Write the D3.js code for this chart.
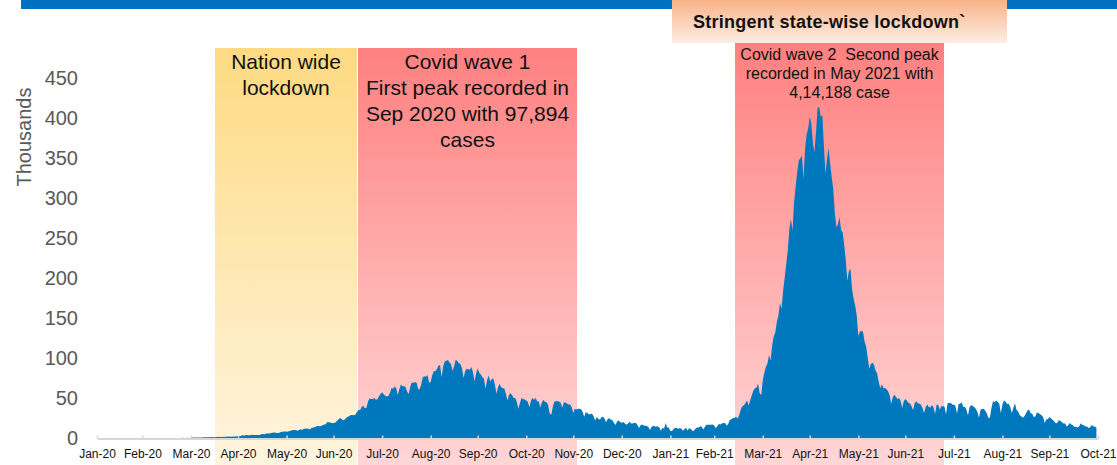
<!DOCTYPE html>
<html>
<head>
<meta charset="utf-8">
<script src="https://cdn.jsdelivr.net/npm/d3@7"></script>
<style>
  html, body { margin: 0; padding: 0; background: #ffffff; }
  svg { display: block; font-family: "Liberation Sans", Arial, sans-serif; }
</style>
</head>
<body>
<svg id="chart" width="1117" height="465"></svg>
<script>
// ---------------- DATA (daily new cases, thousands) ----------------
const monthLabels = ["Jan-20","Feb-20","Mar-20","Apr-20","May-20","Jun-20","Jul-20","Aug-20","Sep-20","Oct-20","Nov-20","Dec-20",
                     "Jan-21","Feb-21","Mar-21","Apr-21","May-21","Jun-21","Jul-21","Aug-21","Sep-21","Oct-21"];
const yTicks = [0, 50, 100, 150, 200, 250, 300, 350, 400, 450];

const feb20 = [0,0,0,0,0,0,0,0,0,0,0,0,0,0,0,0,0,0,0,0,0,0,0,0,0,0,0,0,0];
const mar20 = [0,0,0,0.02,0,0,0,0.01,0.01,0.01,0.02,0.01,0.01,0.02,0.01,0.01,0.02,0.02,0.04,0.06,0.08,0.07,0.1,0.04,0.12,0.07,0.16,0.1,0.1,0.23,0.15];
const apr20 = [0.4,0.5,0.6,0.5,0.5,0.7,0.5,0.6,0.8,0.9,1.0,0.9,0.8,1.2,1.0,0.9,1.3,1.4,1.5,1.3,1.5,1.4,1.7,1.8,1.6,1.9,1.5,1.9,1.8,1.8];
const may20 = [2.4,2.4,2.6,3.9,2.9,3.6,3.6,3.3,3.3,4.2,3.6,3.6,3.7,3.9,3.9,4.9,5.0,4.6,5.6,5.6,5.6,6.1,6.6,6.8,6.5,6.4,6.4,7.2,7.9,7.9,8.4];
const jun20 = [7.7,8.2,8.9,9.3,9.9,9.9,9.9,9.0,10.0,11.0,10.0,11.5,11.5,11.9,11.5,10.7,12.9,12.9,13.6,14.5,15.4,14.8,14.9,16.0,16.9,17.3,19.9,19.6,19.4,18.5];
const jul20 = [18.7,19.1,21.0,22.8,24.9,24.2,22.2,22.8,25.0,26.5,27.1,28.6,28.7,28.5,29.4,32.7,34.9,34.9,38.9,40.4,37.1,37.7,45.7,49.3,48.9,48.7,49.9,47.7,48.5,52.1,55.1];
const aug20 = [57.1,54.7,52.9,52.0,52.5,56.3,62.5,61.5,64.4,62.1,53.6,60.9,66.9,64.6,65.0,63.5,57.9,55.1,64.5,69.7,68.9,69.9,69.2,61.4,60.9,67.2,75.8,77.3,76.5,78.8,69.2];
const sep20 = [69.9,78.4,83.9,83.3,86.4,90.6,90.8,75.8,89.7,95.7,96.6,97.6,94.4,92.1,83.8,90.1,97.9,96.4,93.3,92.6,86.9,75.1,83.3,86.5,86.0,85.4,88.6,82.2,70.6,80.5];
const oct20 = [86.8,81.5,79.5,75.8,74.4,61.3,72.1,78.5,70.5,73.3,74.4,66.7,55.3,63.5,67.7,63.4,62.2,61.9,55.7,46.8,54.0,55.8,53.4,50.1,50.1,45.1,36.5,43.9,49.9,48.6,48.2];
const nov20 = [46.9,45.2,38.3,46.3,50.2,47.6,50.4,45.7,45.9,38.1,44.3,47.9,44.9,44.7,41.1,30.5,29.2,38.6,45.6,45.9,46.2,45.2,44.1,37.9,44.4,44.5,43.1,41.8,41.8,38.8];
const dec20 = [31.1,36.6,35.6,36.6,36.7,36.0,32.9,26.6,32.1,31.5,29.4,30.0,30.3,27.1,22.0,26.4,24.0,22.9,26.0,26.6,24.3,19.6,23.9,24.7,23.1,22.3,18.7,16.4,20.5,21.8,20.0];
const jan21 = [19.1,20.0,18.2,16.5,18.1,20.3,18.1,18.1,19.0,18.6,16.3,12.6,15.9,16.9,15.6,15.2,15.1,13.8,10.1,13.8,15.2,14.5,14.3,14.8,13.2,9.1,12.7,11.7,18.9,13.1,13.0];
const feb21 = [8.6,8.6,11.0,12.9,12.4,11.7,12.1,11.8,9.1,11.0,12.9,9.3,12.1,11.6,9.1,9.1,11.6,13.2,13.2,14.3,14.3,10.6,13.7,16.7,16.6,16.6,16.5,16.8];
const mar21 = [15.5,12.3,14.9,17.4,16.8,18.3,18.7,18.6,15.4,17.9,22.9,23.3,24.9,25.3,26.3,24.5,28.9,35.9,39.7,40.9,43.8,46.9,40.7,47.3,53.5,59.1,62.3,62.7,68.0,56.2,53.5];
const apr21 = [72.3,81.5,89.1,93.2,103.6,96.9,115.7,126.8,131.9,145.4,152.9,168.9,161.7,184.4,200.7,217.4,234.7,261.5,273.8,259.2,295.0,314.8,332.7,346.8,349.7,352.9,323.1,360.9,379.3,386.5];
const may21 = [401.9,392.5,368.1,357.2,382.3,412.3,414.2,401.1,403.7,366.2,329.9,348.4,362.7,343.1,326.1,311.2,281.4,263.5,267.3,276.1,259.6,257.3,240.8,222.3,196.4,208.9,211.3,186.4,173.8,165.5,152.7];
const jun21 = [127.5,132.8,134.2,132.4,120.5,114.5,100.6,86.5,92.6,94.1,91.7,84.3,80.8,70.4,62.2,67.2,62.5,62.5,60.8,58.4,53.3,42.6,50.8,54.1,51.7,48.7,50.0,46.1,37.6,45.9];
const jul21 = [48.8,46.6,44.1,43.1,39.8,34.7,43.7,45.9,43.4,42.8,41.5,37.2,31.4,38.8,41.8,38.9,38.1,41.2,38.2,30.1,42.0,41.4,35.3,39.7,39.7,39.4,29.7,43.7,43.5,44.2,41.6];
const aug21 = [41.8,40.1,30.5,42.6,42.9,44.6,38.6,39.1,35.5,28.2,38.4,41.2,40.1,38.7,36.1,32.9,25.2,35.2,36.4,36.6,34.5,30.9,25.1,25.5,37.6,46.2,44.7,46.8,45.1,42.9,30.9];
const sep21 = [41.9,47.1,45.4,42.6,42.8,38.9,31.2,37.9,43.3,34.9,33.4,28.6,27.3,25.4,27.2,30.6,34.4,35.7,30.8,30.3,26.1,26.9,31.9,31.4,29.6,28.3,26.0,18.8,23.5,23.5];
const oct21 = [26.7,24.4,22.8,20.8,18.3,18.8,22.4,21.3,19.7,18.2,18.1,14.3,15.8,18.9,16.9,15.9,13.6,14.1,13.0,14.6,18.5,16.3,15.9,14.3,14.3,12.4,13.5,16.2,14.3,14.3,12.8];

// month arrays with their (year, month index)
const monthBlocks = [
  [2020,1,feb20],[2020,2,mar20],[2020,3,apr20],[2020,4,may20],[2020,5,jun20],[2020,6,jul20],
  [2020,7,aug20],[2020,8,sep20],[2020,9,oct20],[2020,10,nov20],[2020,11,dec20],
  [2021,0,jan21],[2021,1,feb21],[2021,2,mar21],[2021,3,apr21],[2021,4,may21],[2021,5,jun21],
  [2021,6,jul21],[2021,7,aug21],[2021,8,sep21],[2021,9,oct21]
];

// annotation spans (in the chart's date frame)
const lockdownSpan = [new Date(2020,3,16,8), new Date(2020,6,16,0)];
const wave1Span    = [new Date(2020,6,16,15), new Date(2020,11,3,10)];
const wave2Span    = [new Date(2021,2,14,7), new Date(2021,6,25,17)];
const stateSpan    = [new Date(2021,1,2,1), new Date(2021,8,3,22)];

const lockdownText = ["Nation wide", "lockdown"];
const wave1Text = ["Covid wave 1", "First peak recorded in", "Sep 2020 with 97,894", "cases"];
const wave2Text = ["Covid wave 2  Second peak", "recorded in May 2021 with", "4,14,188 case"];
const stateText = "Stringent state-wise lockdown`";

// ---------------- BUILD ----------------
const points = [];
monthBlocks.forEach(([yr, mo, vals]) => {
  vals.forEach((v, i) => points.push({ date: new Date(yr, mo, i + 1), value: v }));
});

const W = 1117, H = 465;
const svg = d3.select("#chart");

const x = d3.scaleTime()
  .domain([new Date(2020,1,1), new Date(2021,10,1)])
  .range([97, 1098]);
const y = d3.scaleLinear().domain([0, 450]).range([438, 78]);

const defs = svg.append("defs");
function grad(id, top, bottom) {
  const g = defs.append("linearGradient").attr("id", id)
    .attr("x1", 0).attr("y1", 0).attr("x2", 0).attr("y2", 1);
  g.append("stop").attr("offset", "0%").attr("stop-color", top);
  g.append("stop").attr("offset", "100%").attr("stop-color", bottom);
}
grad("gLock", "#FDDA82", "#FFF4DE");
grad("gWave", "#FF8080", "#FFD6D6");
grad("gState", "#F9B387", "#FDEDE5");

// top blue bar
svg.append("rect").attr("x", 21).attr("y", 0).attr("width", W - 21).attr("height", 9).attr("fill", "#0070C0");

// state-wise box
svg.append("rect")
  .attr("x", x(stateSpan[0])).attr("y", 0)
  .attr("width", x(stateSpan[1]) - x(stateSpan[0])).attr("height", 43)
  .attr("fill", "url(#gState)");
svg.append("text")
  .attr("x", x(stateSpan[0]) + 21).attr("y", 28)
  .attr("font-size", 18).attr("font-weight", "bold").attr("fill", "#111")
  .attr("letter-spacing", 0.25)
  .text(stateText);

// bands
function band(span, top, fill) {
  svg.append("rect")
    .attr("x", x(span[0])).attr("y", top)
    .attr("width", x(span[1]) - x(span[0])).attr("height", H - top)
    .attr("fill", fill);
}
band(lockdownSpan, 48, "url(#gLock)");
band(wave1Span, 48, "url(#gWave)");
band(wave2Span, 43, "url(#gWave)");

// area
const area = d3.area()
  .x(d => x(d.date))
  .y0(y(0))
  .y1(d => y(d.value));
svg.append("path").datum(points).attr("d", area).attr("fill", "#0078BE");

// x axis
const tickDates = monthLabels.map((_, i) => new Date(2020, 1 + i, 1));
const xAxis = d3.axisBottom(x)
  .tickValues(tickDates)
  .tickFormat((d, i) => monthLabels[i])
  .tickSizeInner(-3).tickSizeOuter(0).tickPadding(11);
const gx = svg.append("g").attr("transform", `translate(0,${y(0) + 0.5})`).call(xAxis);
gx.select(".domain").attr("stroke", "#D6D6D6").attr("stroke-width", 2);
gx.selectAll(".tick line").attr("stroke", "#D6D6D6").attr("stroke-width", 1.5);
gx.selectAll(".tick text").attr("font-size", 12).attr("fill", "#111")
  .attr("font-family", "'Liberation Sans', Arial, sans-serif");

// y axis
const yAxis = d3.axisLeft(y).tickValues(yTicks).tickSize(0).tickPadding(1);
const gy = svg.append("g").attr("transform", "translate(79,0)").call(yAxis);
gy.select(".domain").remove();
gy.selectAll(".tick text").attr("font-size", 20).attr("fill", "#595959")
  .attr("font-family", "'Liberation Sans', Arial, sans-serif");

svg.append("text")
  .attr("transform", "translate(31,137) rotate(-90)")
  .attr("text-anchor", "middle").attr("font-size", 20).attr("fill", "#595959")
  .text("Thousands");

// band texts
function lines(arr, cx, y0, dy, size) {
  const t = svg.append("text").attr("text-anchor", "middle").attr("font-size", size)
    .attr("fill", "#111").style("white-space", "pre");
  arr.forEach((s, i) => t.append("tspan").attr("x", cx).attr("y", y0 + i * dy).text(s));
}
lines(lockdownText, (x(lockdownSpan[0]) + x(lockdownSpan[1])) / 2, 68.5, 26.3, 21);
lines(wave1Text, (x(wave1Span[0]) + x(wave1Span[1])) / 2, 68.5, 26.3, 21);
lines(wave2Text, (x(wave2Span[0]) + x(wave2Span[1])) / 2, 60, 18.9, 16);
</script>
</body>
</html>
